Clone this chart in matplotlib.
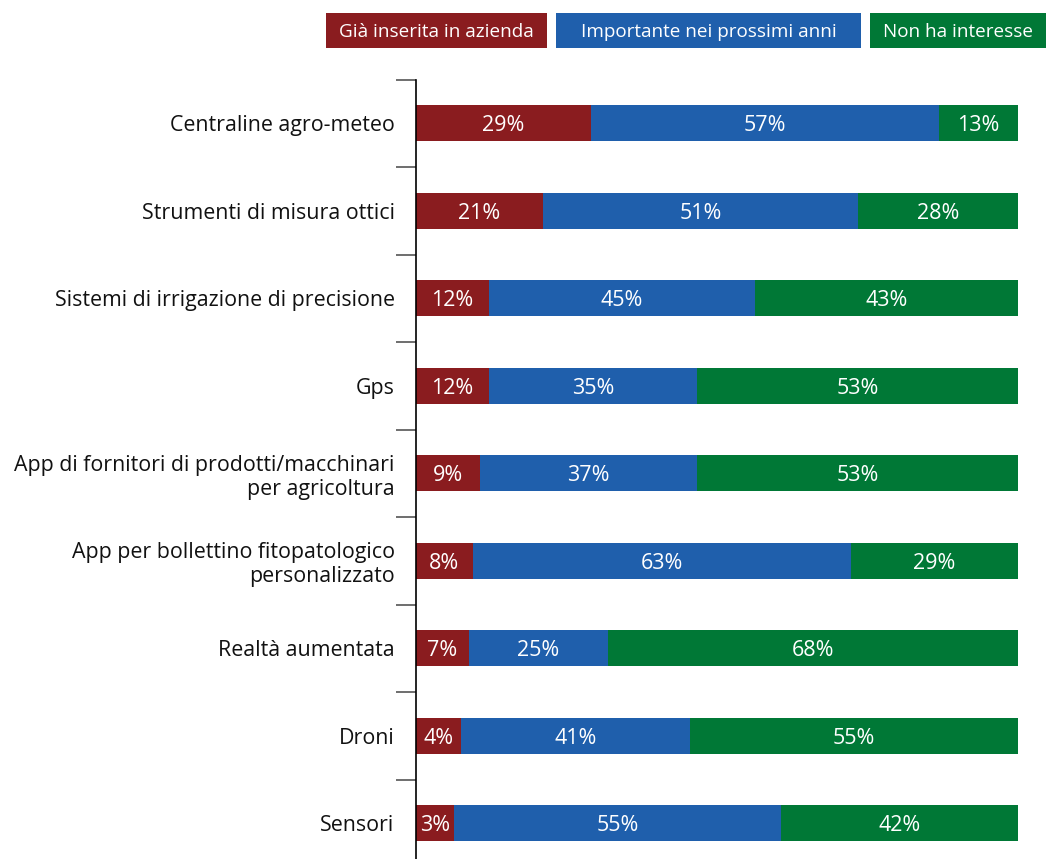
import matplotlib
matplotlib.use("Agg")
import matplotlib.pyplot as plt
from matplotlib.patches import Rectangle
import numpy as np

categories = [
    "Centraline agro-meteo",
    "Strumenti di misura ottici",
    "Sistemi di irrigazione di precisione",
    "Gps",
    "App di fornitori di prodotti/macchinari\nper agricoltura",
    "App per bollettino fitopatologico\npersonalizzato",
    "Realtà aumentata",
    "Droni",
    "Sensori",
]
series_names = ["Già inserita in azienda", "Importante nei prossimi anni", "Non ha interesse"]

# printed percentages
gia_pct = [29, 21, 12, 12, 9, 8, 7, 4, 3]
imp_pct = [57, 51, 45, 35, 37, 63, 25, 41, 55]
non_pct = [13, 28, 43, 53, 53, 29, 68, 55, 42]

# bar lengths as drawn in the chart (share of each row, %)
gia_bar = [29.1, 21.2, 12.2, 12.2, 10.7, 9.5, 8.9, 7.6, 6.4]
imp_bar = [57.8, 52.3, 44.1, 34.5, 36.0, 62.7, 23.0, 38.0, 54.3]
non_bar = [13.1, 26.6, 43.7, 53.3, 53.3, 27.7, 68.1, 54.4, 39.3]

colors = ["#8A1C1F", "#1F5FAC", "#007836"]

FONT = "Open Sans"
W, H = 1052, 859
fig = plt.figure(figsize=(W / 100, H / 100), dpi=100)

ax_left, ax_right = 415.5, 1018
ax_top, ax_bot = 79.5, 867
ax = fig.add_axes([ax_left / W, 1 - ax_bot / H, (ax_right - ax_left) / W, (ax_bot - ax_top) / H])

bars = np.array([gia_bar, imp_bar, non_bar], dtype=float)
bars = bars / bars.sum(axis=0) * 100
labels = [gia_pct, imp_pct, non_pct]
y = np.arange(len(categories))
left = np.zeros(len(categories))
for k in range(3):
    ax.barh(y, bars[k], left=left, height=0.41, color=colors[k], linewidth=0)
    for i in range(len(categories)):
        ax.text(left[i] + bars[k][i] / 2, y[i] + 0.03, f"{labels[k][i]}%", ha="center", va="center",
                color="white", fontsize=15.5, family=FONT)
    left += bars[k]

ax.set_xlim(0, 100)
ax.set_ylim(len(categories) - 0.5, -0.5)
for s in ["top", "right", "bottom"]:
    ax.spines[s].set_visible(False)
ax.spines["left"].set_color("black")
ax.spines["left"].set_linewidth(1.2)
ax.set_xticks([])
ax.set_yticks(y)
ax.set_yticklabels(categories, fontsize=15.4, family=FONT, color="#111111")
ax.tick_params(axis="y", which="major", length=0, pad=15)
ax.set_yticks(np.arange(-0.5, len(categories) + 0.5, 1), minor=True)
ax.tick_params(axis="y", which="minor", length=14.4, width=1.2, color="#555555")

# legend boxes
boxes = [(326, 547), (556, 861), (870, 1046)]
by0, by1 = 13, 48
for (x0, x1), name, c in zip(boxes, series_names, colors):
    fig.patches.append(Rectangle((x0 / W, 1 - by1 / H), (x1 - x0) / W, (by1 - by0) / H,
                                 transform=fig.transFigure, color=c, linewidth=0))
    fig.text((x0 + x1) / 2 / W, 1 - ((by0 + by1) / 2 + 1.5) / H, name, ha="center", va="center",
             color="white", fontsize=13.6, family=FONT)

fig.savefig("out.png", dpi=100)
